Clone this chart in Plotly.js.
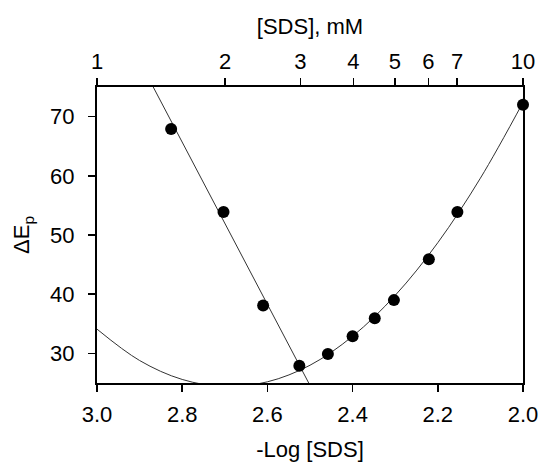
<!DOCTYPE html>
<html><head><meta charset="utf-8">
<script src="https://cdn.plot.ly/plotly-3.0.1.min.js"></script>
<style>body{margin:0;background:#fff}#g{width:539px;height:462px}</style>
</head><body><div id="g"></div>
<script>
// -Log[SDS] values and peak separation ΔEp (data points)
const negLogSDS = [2.826, 2.703, 2.61, 2.525, 2.458, 2.400, 2.348, 2.303, 2.221, 2.154, 2.000];
const deltaEp   = [67.9, 53.9, 38.1, 27.9, 29.9, 32.9, 35.95, 39.0, 45.9, 53.9, 72.0];
// fitted straight line (read where it meets the frame)
const lineFitX = [2.868, 2.503];
const lineFitY = [75, 25];
// fitted parabola
const curveFitX = [3.0, 2.9, 2.8, 2.7, 2.6, 2.5, 2.4, 2.3, 2.2, 2.1, 2.0];
const curveFitY = [34.1, 28.8, 25.6, 24.4, 25.2, 28.0, 32.9, 39.8, 48.7, 59.6, 72.4];
// axis ticks
const topTickVals = [1, 2, 3, 4, 5, 6, 7, 10];
const bottomTickVals = [3.0, 2.8, 2.6, 2.4, 2.2, 2.0];
const yTickVals = [30, 40, 50, 60, 70];

const traces = [
  {x:lineFitX, y:lineFitY, mode:'lines', line:{color:'#333', width:1}, hoverinfo:'skip'},
  {x:curveFitX, y:curveFitY, mode:'lines', line:{color:'#333', width:1, shape:'spline', smoothing:1}, hoverinfo:'skip'},
  {x:negLogSDS, y:deltaEp, mode:'markers', marker:{color:'#000', size:12}, cliponaxis:false},
  {x:[1,10], y:[50,50], xaxis:'x2', mode:'markers', marker:{opacity:0}, hoverinfo:'skip'}
];
const font = {family:'Liberation Sans, Arial, sans-serif', size:22, color:'#000'};
const axBase = {showline:true, linecolor:'#000', linewidth:2, ticks:'outside', ticklen:7, tickwidth:1.5,
  tickcolor:'#000', showgrid:false, zeroline:false, tickfont:font, ticklabelstandoff:9};
const layout = {
  width:539, height:462, showlegend:false,
  margin:{l:97, r:16, t:87, b:79},
  paper_bgcolor:'#fff', plot_bgcolor:'#fff', font:font,
  xaxis:Object.assign({}, axBase, {range:[3,2], tickvals:bottomTickVals, ticktext:bottomTickVals.map(v=>v.toFixed(1)),
    ticklabelstandoff:4, title:{text:'-Log [SDS]', font:font, standoff:20}}),
  xaxis2:Object.assign({}, axBase, {type:'log', range:[0,1], overlaying:'x', side:'top', tickvals:topTickVals,
    ticktext:topTickVals.map(String), ticklabelstandoff:0, title:{text:'[SDS], mM', font:font, standoff:9}}),
  yaxis:Object.assign({}, axBase, {range:[25,75], tickvals:yTickVals, mirror:true,
    title:{text:'ΔE<sub>p</sub>', font:font, standoff:14}})
};
Plotly.newPlot('g', traces, layout, {displayModeBar:false, staticPlot:true});
</script></body></html>
